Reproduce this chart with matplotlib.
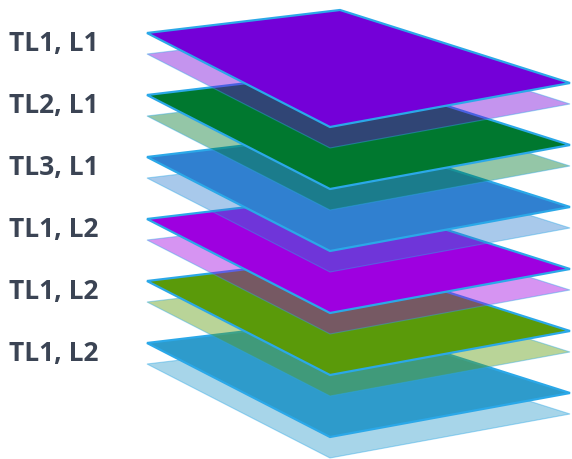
import matplotlib.pyplot as plt
from matplotlib.patches import Polygon

# layer labels (top to bottom) and fill colours
labels = ['TL1, L1', 'TL2, L1', 'TL3, L1', 'TL1, L2', 'TL1, L2', 'TL1, L2']
colors = ['#7400D8', '#00782F', '#3080D0', '#9E00E0', '#5A9A0A', '#2E9BCB']

W, H = 572, 459
fig = plt.figure(figsize=(W / 100, H / 100), dpi=100)
ax = fig.add_axes([0, 0, 1, 1])
ax.set_xlim(0, W)
ax.set_ylim(H, 0)
ax.axis('off')

# shape of one sheet, relative to its left corner
shape = [(0, 0), (193, -23), (423, 50), (183, 94)]
x0, y0, step, drop = 147, 33, 62, 21
edge = '#2BA8E8'

# draw from the bottom sheet up so upper sheets sit on top
for i in reversed(range(len(labels))):
    ly = y0 + i * step
    shadow = [(x0 + dx, ly + drop + dy) for dx, dy in shape]
    main = [(x0 + dx, ly + dy) for dx, dy in shape]
    ax.add_patch(Polygon(shadow, closed=True, facecolor=colors[i], alpha=0.42,
                         edgecolor=edge, lw=0.8))
    ax.add_patch(Polygon(main, closed=True, facecolor=colors[i],
                         edgecolor=edge, lw=1.6, joinstyle='miter'))

for i, lab in enumerate(labels):
    ax.text(9, y0 + i * step + 11, lab, fontsize=19, fontweight='bold',
            family='Open Sans', color='#3B4454', va='center', ha='left')

fig.savefig('out.png', dpi=100)
